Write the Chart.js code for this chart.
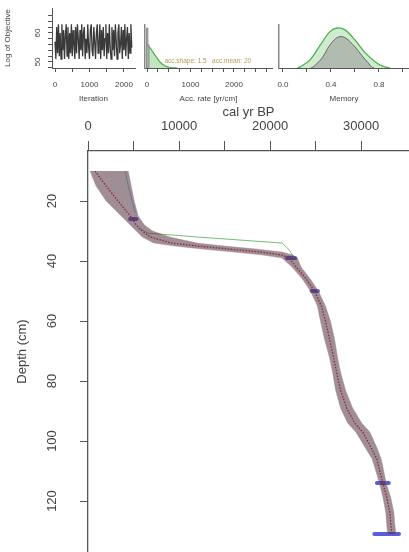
<!DOCTYPE html>
<html>
<head>
<meta charset="utf-8">
<script src="https://cdn.jsdelivr.net/npm/chart.js@4.4.1/dist/chart.umd.min.js"></script>
<style>
  html, body { margin: 0; padding: 0; background: #fff; }
  #wrap { position: relative; width: 409px; height: 552px; overflow: hidden; }
  canvas { position: absolute; }
</style>
</head>
<body>
<div id="wrap">
  <canvas id="main" style="left:0;top:0" width="409" height="552"></canvas>
  <canvas id="iter" style="left:0;top:0" width="140" height="104"></canvas>
  <canvas id="acc" style="left:140px;top:0" width="137" height="104"></canvas>
  <canvas id="mem" style="left:277px;top:0" width="132" height="104"></canvas>
</div>
<script>
// --- age-depth model (main panel) ---
const depths   = [10, 15, 20, 25, 28, 30, 32, 34, 35, 36, 37, 38, 39, 42, 46, 50, 55, 60, 66, 72, 77, 83, 89, 94, 97, 102, 106, 110, 114, 119, 124, 128, 131];
const meanAges = [770, 2000, 3300, 4640, 5300, 5970, 6850, 9170, 12150, 15470, 19000, 21330, 22100, 22870, 23980, 24860, 25630, 26080, 26520, 26960, 27290, 27730, 28400, 29280, 30170, 31050, 31710, 32040, 32380, 32820, 33150, 33260, 33370];
const minAges  = [220, 880, 1990, 3650, 4640, 5300, 5970, 7200, 9500, 12500, 16000, 19200, 21300, 22400, 23540, 24420, 25190, 25520, 25960, 26500, 26850, 27180, 27730, 28500, 29400, 30400, 31200, 31600, 32000, 32400, 32700, 32800, 32900];
const maxAges  = [4420, 4750, 5080, 5520, 6200, 7100, 9000, 12000, 15000, 18500, 21300, 22500, 23000, 23400, 24420, 25300, 26080, 26630, 27080, 27400, 27730, 28280, 29060, 30060, 30950, 31700, 32200, 32480, 32750, 33260, 33600, 33700, 33830];

// single model iterations that stand out of the cloud
const greenDepths = [29, 30.7, 32, 34, 36.3, 39];
const greenAges   = [5520, 6630, 12150, 21330, 22100, 22650];
const cyanDepths  = [10, 15, 20, 24];
const cyanAges    = [4090, 4420, 4860, 5190];

// calibrated dates
const dateDepths = [26, 39, 50, 114, 131];
const dateAges   = [4970, 22300, 24900, 32380, 32800];
const dateErrs   = [350, 450, 350, 650, 1350];

const ageTicks   = [0, 5000, 10000, 15000, 20000, 25000, 30000];
const depthTicks = [20, 40, 60, 80, 100, 120];

// --- MCMC panels ---
const iterStep = 25;
const iterVals = [57,51,62,53,63,52,60,51,63,54,61,51,59,63,52,62,51,60,53,63,52,61,56,51,62,53,63,58,51,61,
                  54,63,52,60,62,51,58,53,63,55,51,61,63,54,52,62,57,51,60,63,53,56,63,51,61,54,62,52,58,63,
                  51,60,53,63,55,51,62,54,61,52,63,57,51,60,63,53,56,62,51,61,54,63,52,58,62,51,60,53,63,55];
const iterTicks = [0, 500, 1000, 1500, 2000];
const objTicks  = [48, 50, 52, 54, 56, 58, 60, 62, 64, 66];

const accPriorX = [0, 69, 184, 299, 414, 529, 700];
const accPriorY = [0.53, 0.47, 0.3, 0.14, 0.05, 0.01, 0];
const accPostEdges  = [-10, 20, 45];
const accPostCounts = [0.93, 0.55];
const accTicks = [0, 250, 500, 750, 1000, 1250, 1500, 1750, 2000, 2250, 2500, 2750];
const accText = 'acc.shape: 1.5   acc.mean: 20';

const memPriorX = [0.12, 0.14, 0.225, 0.31, 0.39, 0.45, 0.52, 0.6, 0.68, 0.77, 0.825, 0.89];
const memPriorY = [0, 0.02, 0.19, 0.53, 0.84, 0.93, 0.88, 0.65, 0.37, 0.14, 0.05, 0];
const memPostX  = [0.23, 0.25, 0.325, 0.39, 0.46, 0.52, 0.6, 0.66, 0.71, 0.74, 0.76];
const memPostY  = [0, 0.02, 0.23, 0.53, 0.72, 0.7, 0.49, 0.28, 0.12, 0.02, 0];
const memTicks  = [0, 0.2, 0.4, 0.6, 0.8, 1.0];

const FONT = "'Liberation Sans', Arial, sans-serif";
Chart.defaults.font.family = FONT;
Chart.defaults.color = '#333';

function pts(xs, ys) {
    return xs.map((x, i) => ({ x: x, y: ys[i] }));
}

// blue date marks: a short thick bar per date, separated by gaps
let datePts = [];
dateDepths.forEach((d, i) => {
    datePts.push({ x: dateAges[i] - dateErrs[i], y: d });
    datePts.push({ x: dateAges[i] + dateErrs[i], y: d });
    datePts.push({ x: dateAges[i], y: null });
});

new Chart(document.getElementById('main'), {
    type: 'line',
    data: {
        datasets: [
            { data: pts(minAges, depths), borderColor: 'rgba(170,130,150,0.6)', borderWidth: 0.6, pointRadius: 0, fill: false },
            { data: pts(maxAges, depths), borderColor: 'rgba(170,130,150,0.6)', borderWidth: 0.6, pointRadius: 0,
              fill: '-1', backgroundColor: 'rgba(80,50,62,0.55)' },
            { data: pts(greenAges, greenDepths), borderColor: 'rgba(70,170,70,0.75)', borderWidth: 1, pointRadius: 0, fill: false },
            { data: pts(cyanAges, cyanDepths), borderColor: 'rgba(70,200,210,0.75)', borderWidth: 1, pointRadius: 0, fill: false },
            { data: pts(meanAges, depths), borderColor: '#d82020', borderWidth: 1.3, borderDash: [1.5, 1.5], pointRadius: 0, fill: false },
            { data: datePts, borderColor: 'rgba(50,50,210,0.8)', borderWidth: 4, borderCapStyle: 'round',
              pointRadius: 0, fill: false, spanGaps: false }
        ]
    },
    options: {
        responsive: false,
        animation: false,
        events: [],
        indexAxis: 'y',
        layout: { padding: { top: 100, right: 0, bottom: 0, left: 0 } },
        plugins: { legend: { display: false }, tooltip: { enabled: false } },
        scales: {
            x: {
                type: 'linear', position: 'top', min: 0, max: 35250,
                afterBuildTicks: s => { s.ticks = ageTicks.map(v => ({ value: v })); },
                afterFit: s => { s.height = 51; s.paddingLeft = 0; s.paddingRight = 0; },
                ticks: { callback: v => (v % 10000 === 0 ? v : ''), font: { size: 13 }, color: '#444',
                         maxRotation: 0, autoSkip: false, padding: 7 },
                grid: { drawOnChartArea: false, tickLength: 10, color: '#555' },
                border: { color: '#555', width: 1.3 },
                title: { display: true, text: 'cal yr BP', font: { size: 13 }, color: '#444', padding: { top: 5, bottom: 0 } }
            },
            y: {
                type: 'linear', reverse: true, min: 3.3, max: 137,
                afterBuildTicks: s => { s.ticks = depthTicks.map(v => ({ value: v })); },
                afterFit: s => { s.width = 88; s.paddingTop = 0; s.paddingBottom = 0; },
                ticks: { font: { size: 13 }, color: '#444', minRotation: 90, maxRotation: 90,
                         crossAlign: 'center', padding: 17, autoSkip: false },
                grid: { drawOnChartArea: false, tickLength: 8, color: '#555' },
                border: { color: '#555', width: 1.3 },
                title: { display: true, text: 'Depth (cm)', font: { size: 13 }, color: '#444', padding: { top: 15, bottom: 0 } }
            }
        }
    }
});

function smallX(min, max, ticks, labelFn, title) {
    return {
        type: 'linear', min: min, max: max,
        afterBuildTicks: s => { s.ticks = ticks.map(v => ({ value: v })); },
        afterFit: s => { s.height = 36; s.paddingLeft = 0; s.paddingRight = 0; },
        ticks: { callback: labelFn, font: { size: 8 }, color: '#444', padding: 8, maxRotation: 0, autoSkip: false },
        grid: { drawOnChartArea: false, tickLength: 4, color: '#555' },
        border: { color: '#555' },
        title: { display: true, text: title, font: { size: 8 }, color: '#444', padding: { top: 1, bottom: 0 } }
    };
}

function bareY(width) {
    return {
        type: 'linear', min: 0, max: 1,
        afterFit: s => { s.width = width; },
        ticks: { display: false },
        grid: { display: false },
        border: { color: '#888', width: 1.5 }
    };
}

const base = {
    responsive: false,
    animation: false,
    events: [],
    plugins: { legend: { display: false }, tooltip: { enabled: false } }
};

// log of objective vs iteration
new Chart(document.getElementById('iter'), {
    type: 'line',
    data: { datasets: [{ data: iterVals.map((v, i) => ({ x: i * iterStep, y: v })), borderColor: '#3a3a3a',
                         borderWidth: 1.3, pointRadius: 0 }] },
    options: Object.assign({}, base, {
        layout: { padding: { top: 8, right: 5, left: 0, bottom: 0 } },
        scales: {
            x: smallX(-87, 2319, iterTicks, v => (v % 1000 === 0 ? v : ''), 'Iteration'),
            y: {
                type: 'linear', min: 47.9, max: 68.6,
                afterBuildTicks: s => { s.ticks = objTicks.map(v => ({ value: v })); },
                afterFit: s => { s.width = 52; s.paddingTop = 0; s.paddingBottom = 0; },
                ticks: { callback: v => (v % 10 === 0 ? v : ''), font: { size: 8 }, color: '#444',
                         minRotation: 90, maxRotation: 90, crossAlign: 'center', padding: 6, autoSkip: false },
                grid: { drawOnChartArea: false, tickLength: 4, color: '#555' },
                border: { color: '#555' },
                title: { display: true, text: 'Log of Objective', font: { size: 8 }, color: '#444', padding: { top: 3, bottom: 0 } }
            }
        }
    })
});

// accumulation rate prior / posterior
const accLabel = {
    id: 'accLabel',
    afterDatasetsDraw(chart) {
        const ctx = chart.ctx;
        ctx.save();
        ctx.font = '6.5px ' + FONT;
        ctx.fillStyle = '#b59a55';
        ctx.textBaseline = 'middle';
        ctx.fillText(accText, chart.scales.x.getPixelForValue(400), chart.scales.y.getPixelForValue(0.15));
        ctx.restore();
    }
};
let accPost = accPostCounts.map((c, i) => ({ x: accPostEdges[i], y: c }));
accPost.unshift({ x: accPostEdges[0], y: 0 });
accPost.push({ x: accPostEdges[accPostEdges.length - 1], y: accPostCounts[accPostCounts.length - 1] });
accPost.push({ x: accPostEdges[accPostEdges.length - 1], y: 0 });

new Chart(document.getElementById('acc'), {
    type: 'line',
    data: { datasets: [
        { data: accPost, stepped: true, borderColor: '#888', borderWidth: 1, backgroundColor: 'rgba(150,150,150,0.55)',
          fill: 'origin', pointRadius: 0 },
        { data: pts(accPriorX, accPriorY), borderColor: 'rgba(60,170,60,0.9)', borderWidth: 1.2,
          backgroundColor: 'rgba(120,200,120,0.45)', fill: 'origin', pointRadius: 0, tension: 0.3 }
    ] },
    options: Object.assign({}, base, {
        layout: { padding: { top: 25, right: 5, left: 0, bottom: 0 } },
        scales: {
            x: smallX(-46, 2874, accTicks, v => (v % 1000 === 0 ? v : ''), 'Acc. rate [yr/cm]'),
            y: bareY(5)
        }
    }),
    plugins: [accLabel]
});

// memory prior / posterior
new Chart(document.getElementById('mem'), {
    type: 'line',
    data: { datasets: [
        { data: pts(memPostX, memPostY), borderColor: '#666', borderWidth: 1, backgroundColor: 'rgba(150,150,150,0.55)',
          fill: 'origin', pointRadius: 0, tension: 0.35 },
        { data: pts(memPriorX, memPriorY), borderColor: 'rgba(60,170,60,0.9)', borderWidth: 1.3,
          backgroundColor: 'rgba(120,200,120,0.35)', fill: 'origin', pointRadius: 0, tension: 0.35 }
    ] },
    options: Object.assign({}, base, {
        layout: { padding: { top: 25, right: 0, left: 0, bottom: 0 } },
        scales: {
            x: smallX(-0.033, 1.05, memTicks, v => ([0, 0.4, 0.8].some(t => Math.abs(t - v) < 1e-6) ? v.toFixed(1) : ''), 'Memory'),
            y: bareY(2)
        }
    })
});
</script>
</body>
</html>
